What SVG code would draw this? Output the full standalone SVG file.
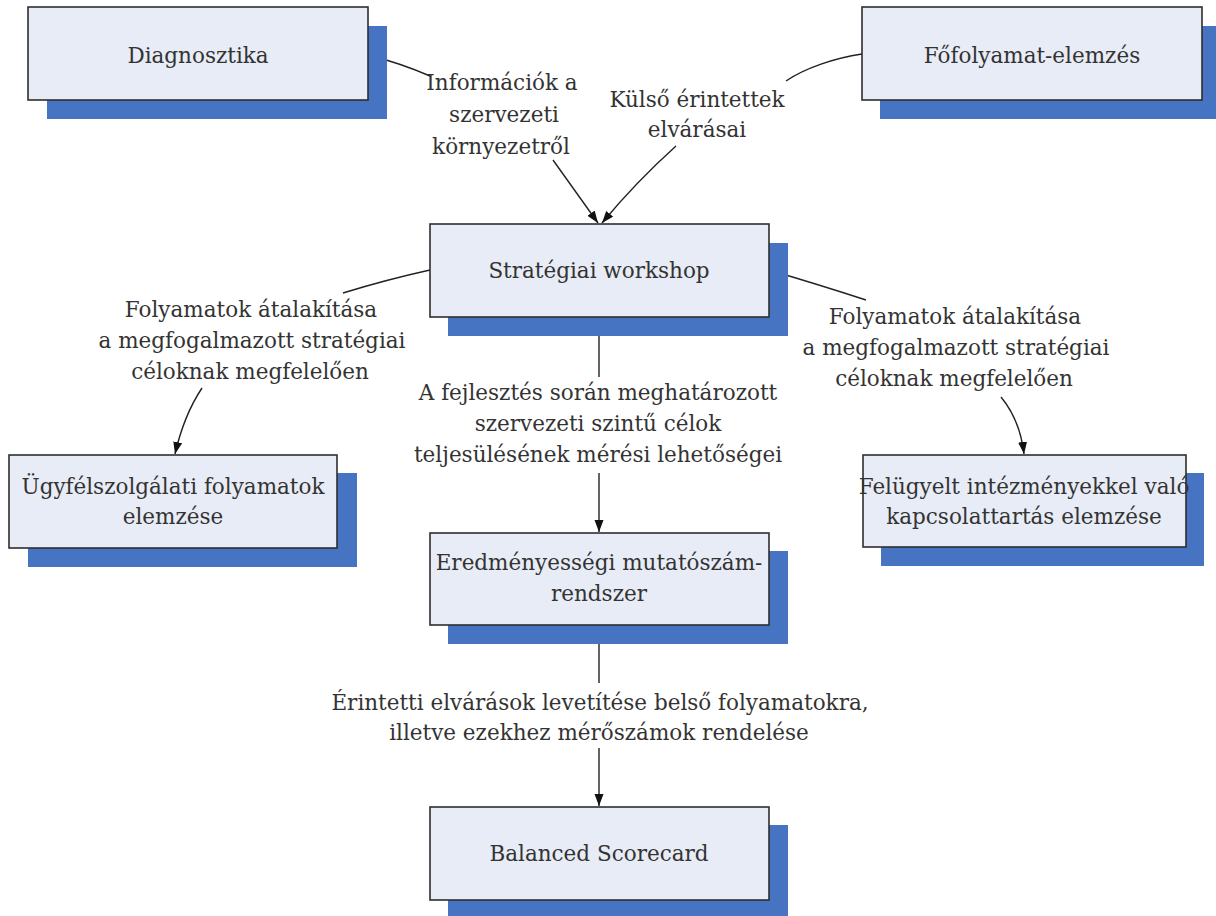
<svg xmlns="http://www.w3.org/2000/svg" width="1216" height="916" viewBox="0 0 1216 916">
<defs>
<style>
.sh{fill:#4673c2}
.bx{fill:#e8ecf6;stroke:#2e2e2e;stroke-width:1.6}
.c{fill:none;stroke:#222;stroke-width:1.4}
</style>
<marker id="ah" markerUnits="userSpaceOnUse" markerWidth="13" markerHeight="10" refX="12" refY="4.5" orient="auto">
<path d="M0,0 L12,4.5 L0,9 z" fill="#111"/>
</marker>
</defs>
<rect width="1216" height="916" fill="#fff"/>

<g id="connectors">
<path class="c" d="M368,55 Q400,63 430,76"/>
<path class="c" d="M553,160 L598,223" marker-end="url(#ah)"/>
<path class="c" d="M862,54 C835,58 805,68 786,81"/>
<path class="c" d="M676,146 Q636,182 602,223" marker-end="url(#ah)"/>
<path class="c" d="M430,270 Q385,280 343,293"/>
<path class="c" d="M202,388 Q184,415 175,454" marker-end="url(#ah)"/>
<path class="c" d="M769,270 Q820,285 866,300"/>
<path class="c" d="M1001,397 Q1020,420 1024,454" marker-end="url(#ah)"/>
<path class="c" d="M599,317 L599,377"/>
<path class="c" d="M599,473 L599,532" marker-end="url(#ah)"/>
<path class="c" d="M599,625 L599,683"/>
<path class="c" d="M599,748 L599,806" marker-end="url(#ah)"/>
</g>

<g id="labels" font-family="DejaVu Serif, serif" font-size="21.5" fill="#333" text-anchor="middle">
<text x="502" y="90">Információk a</text>
<text x="504" y="122">szervezeti</text>
<text x="501" y="154">környezetről</text>
<text x="697" y="107">Külső érintettek</text>
<text x="697" y="137">elvárásai</text>
<text x="251" y="317">Folyamatok átalakítása</text>
<text x="252" y="348">a megfogalmazott stratégiai</text>
<text x="250" y="379">céloknak megfelelően</text>
<text x="955" y="324">Folyamatok átalakítása</text>
<text x="956" y="355">a megfogalmazott stratégiai</text>
<text x="954" y="386">céloknak megfelelően</text>
<text x="598" y="400">A fejlesztés során meghatározott</text>
<text x="598" y="431">szervezeti szintű célok</text>
<text x="598" y="462">teljesülésének mérési lehetőségei</text>
<text x="600" y="710">Érintetti elvárások levetítése belső folyamatokra,</text>
<text x="599" y="740">illetve ezekhez mérőszámok rendelése</text>
</g>

<g id="n-diagnosztika" font-family="DejaVu Serif, serif" font-size="21.5" fill="#333" text-anchor="middle">
<rect class="sh" x="47" y="26" width="340" height="93"/>
<rect class="bx" x="28" y="7" width="340" height="93"/>
<text x="198" y="63">Diagnosztika</text>
</g>
<g id="n-fofolyamat" font-family="DejaVu Serif, serif" font-size="21.5" fill="#333" text-anchor="middle">
<rect class="sh" x="880" y="26" width="340" height="93"/>
<rect class="bx" x="862" y="7" width="340" height="93"/>
<text x="1032" y="63">Főfolyamat-elemzés</text>
</g>
<g id="n-strategiai" font-family="DejaVu Serif, serif" font-size="21.5" fill="#333" text-anchor="middle">
<rect class="sh" x="448" y="243" width="340" height="93"/>
<rect class="bx" x="430" y="224" width="339" height="93"/>
<text x="599" y="278">Stratégiai workshop</text>
</g>
<g id="n-ugyfel" font-family="DejaVu Serif, serif" font-size="21.5" fill="#333" text-anchor="middle">
<rect class="sh" x="28" y="473" width="329" height="94"/>
<rect class="bx" x="9" y="455" width="328" height="93"/>
<text x="173" y="494">Ügyfélszolgálati folyamatok</text>
<text x="173" y="524">elemzése</text>
</g>
<g id="n-felugyelt" font-family="DejaVu Serif, serif" font-size="21.5" fill="#333" text-anchor="middle">
<rect class="sh" x="881" y="473" width="323" height="93"/>
<rect class="bx" x="863" y="455" width="323" height="92"/>
<text x="1024" y="494">Felügyelt intézményekkel való</text>
<text x="1024" y="524">kapcsolattartás elemzése</text>
</g>
<g id="n-eredmenyesseg" font-family="DejaVu Serif, serif" font-size="21.5" fill="#333" text-anchor="middle">
<rect class="sh" x="448" y="551" width="340" height="93"/>
<rect class="bx" x="430" y="533" width="339" height="92"/>
<text x="599" y="570">Eredményességi mutatószám-</text>
<text x="599" y="601">rendszer</text>
</g>
<g id="n-bsc" font-family="DejaVu Serif, serif" font-size="21.5" fill="#333" text-anchor="middle">
<rect class="sh" x="448" y="825" width="340" height="93"/>
<rect class="bx" x="430" y="807" width="339" height="93"/>
<text x="599" y="861">Balanced Scorecard</text>
</g>
</svg>
